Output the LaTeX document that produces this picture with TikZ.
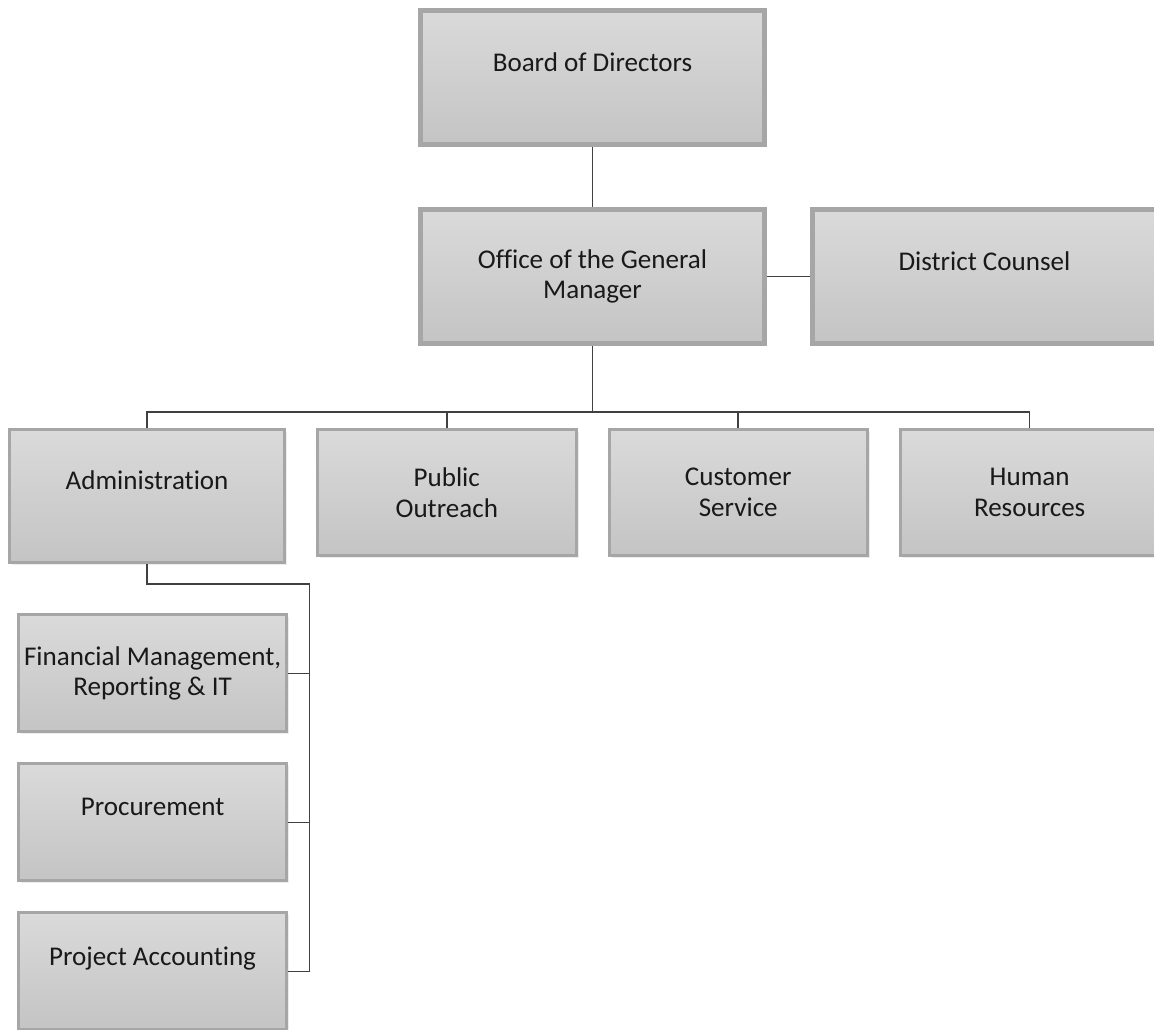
\documentclass[tikz,border=0pt]{standalone}
\usepackage{fontspec}
\setmainfont{Carlito}[Ligatures=NoCommon]
\usetikzlibrary{positioning,backgrounds,shadows}

\definecolor{boxtop}{HTML}{DADADA}
\definecolor{boxbot}{HTML}{C4C4C4}
\definecolor{boxline}{HTML}{A6A6A6}
\definecolor{linkline}{HTML}{404040}
\newcommand{\oneline}[1]{#1\\\mbox{}}

\begin{document}
\begin{tikzpicture}[x=0.02cm, y=-0.02cm,
      box/.style={
        draw=boxline, top color=boxtop, bottom color=boxbot,
        align=center, text=black!90, font=\fontsize{15.4}{17.5}\selectfont,
        inner sep=0pt, outer sep=0pt,
        drop shadow={shadow xshift=0.05cm, shadow yshift=-0.05cm, fill=black, opacity=0.07}
      },
      head/.style={box, line width=0.1cm, minimum width=6.88cm, minimum height=2.68cm},
      unit/.style={box, line width=0.06cm, minimum width=5.17cm, minimum height=2.52cm},
      sub/.style={box, line width=0.06cm, minimum width=5.36cm, minimum height=2.34cm},
      link/.style={draw=linkline, line width=0.03cm}
      ]

  \useasboundingbox (0,0) rectangle (1154,1029);
  \clip (0,0) rectangle (1154,1029);

	  \node[head] (board) at (592.5,77.5) {\oneline{Board of Directors}};
	  \node[head, below = 1.3cm of board] (gm) {Office of the General\\Manager};
	  \node[head, right = 0.96cm of gm] (counsel) {\oneline{District Counsel}};
	  \node[unit, minimum width=5.5cm, minimum height=2.66cm,
	        below left = 1.72cm and 2.72cm of gm] (admin) {\oneline{Administration}};
	  \node[unit, right = 0.66cm of admin.north east, anchor=north west] (outreach) {Public\\Outreach};
	  \node[unit, right = 0.66cm of outreach] (service) {Customer\\Service};
	  \node[unit, right = 0.66cm of service] (hr) {Human\\Resources};
	  \node[sub, below = 1.05cm of admin.south east, anchor=north east, xshift=0.04cm] (finance) {Financial Management,\\Reporting \& IT};
	  \node[sub, below = 0.64cm of finance] (procure) {\oneline{Procurement}};
	  \node[sub, below = 0.64cm of procure] (projacc) {\oneline{Project Accounting}};

  \coordinate[below = 1.37cm of gm.south] (bus);
  \coordinate[right = 0.46cm of finance.east] (spine);

  % Connect the nodes
  \begin{scope}[on background layer]
  \draw[link] (board) -- (gm);
  \draw[link] (gm) -- (counsel);
  \draw[link] (gm.south) -- (bus);
  \draw[link] (admin.north) -- (admin.north |- bus) -- (hr.north |- bus) -- (hr.north);
  \draw[link] (outreach.north) -- (outreach.north |- bus);
  \draw[link] (service.north) -- (service.north |- bus);
  \draw[link] (admin.south) -- ++(0,-0.43cm) -| (spine |- projacc.east) -- (projacc.east);
  \draw[link] (finance.east) -- (spine);
  \draw[link] (procure.east) -- (spine |- procure.east);
  \end{scope}

\end{tikzpicture}
\end{document}
